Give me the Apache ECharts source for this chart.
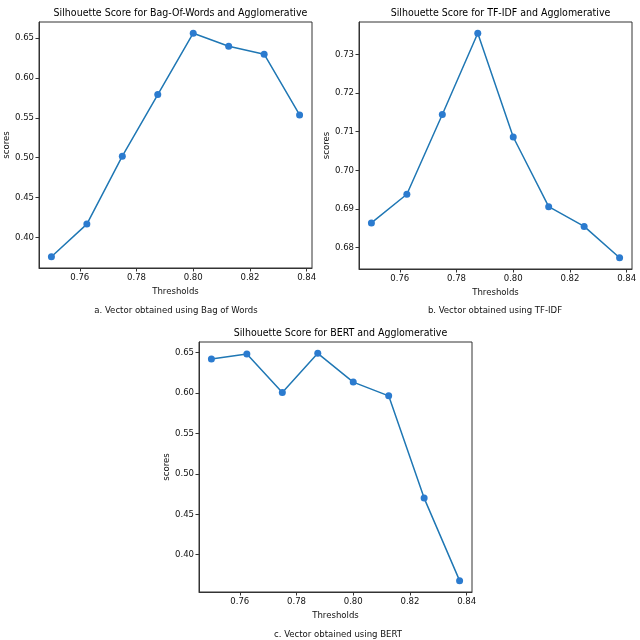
<!DOCTYPE html>
<html>
<head>
<meta charset="utf-8">
<script src="https://cdn.jsdelivr.net/npm/echarts@6/dist/echarts.min.js"></script>
<style>html,body{margin:0;padding:0;background:#fff}#c{width:640px;height:640px}</style>
</head>
<body>
<div id="c"></div>
<script>
var thresholds = [0.75, 0.7625, 0.775, 0.7875, 0.80, 0.8125, 0.825, 0.8375];
var bowScores = [0.3757, 0.4167, 0.5019, 0.5790, 0.6560, 0.6397, 0.6297, 0.5536];
var tfidfScores = [0.6864, 0.6938, 0.7144, 0.7354, 0.7086, 0.6906, 0.6855, 0.6774];
var bertScores = [0.6417, 0.6480, 0.6005, 0.6488, 0.6133, 0.5963, 0.4700, 0.3680];
var xTicks = [0.76, 0.78, 0.80, 0.82, 0.84];
var yTicksA = [0.40, 0.45, 0.50, 0.55, 0.60, 0.65];
var yTicksB = [0.68, 0.69, 0.70, 0.71, 0.72, 0.73];
var yTicksC = [0.40, 0.45, 0.50, 0.55, 0.60, 0.65];
var titles = ['Silhouette Score for Bag-Of-Words and Agglomerative',
              'Silhouette Score for TF-IDF and Agglomerative',
              'Silhouette Score for BERT and Agglomerative'];
var captions = ['a. Vector obtained using Bag of Words',
                'b. Vector obtained using TF-IDF',
                'c. Vector obtained using BERT'];

var FONT = "'DejaVu Sans Condensed', 'Liberation Sans Narrow', 'Liberation Sans', sans-serif";
var TXT = '#111';

function pairs(ys){ return thresholds.map(function(x,i){ return [x, ys[i]]; }); }
function margins(vals){
  var mn = Math.min.apply(null, vals), mx = Math.max.apply(null, vals), d = (mx - mn) * 0.05;
  return [mn - d, mx + d];
}
var xr = margins(thresholds);

var grids = [
  {left: 39, top: 22, width: 273, height: 246},
  {left: 359, top: 22, width: 273, height: 247},
  {left: 199, top: 342, width: 273, height: 250}
];
grids.forEach(function(g){ g.show = true; g.borderColor = '#333'; g.borderWidth = 1; g.backgroundColor = '#fff'; g.containLabel = false; });

function xAxis(i){
  return {
    type: 'value', gridIndex: i, min: xr[0], max: xr[1],
    name: 'Thresholds', nameLocation: 'middle', nameGap: 19,
    nameTextStyle: {fontFamily: FONT, fontSize: 9.5, color: TXT},
    axisLine: {show: true, lineStyle: {color: '#333', width: 1}},
    axisTick: {show: true, length: 3.5, customValues: xTicks, lineStyle: {color: '#333'}},
    axisLabel: {show: true, customValues: xTicks, margin: 5, fontFamily: FONT, fontSize: 9.5, color: TXT,
      formatter: function(v){ return v.toFixed(2); }},
    splitLine: {show: false}
  };
}
function yAxis(i, vals, ticks){
  var r = margins(vals);
  return {
    type: 'value', gridIndex: i, min: r[0], max: r[1],
    name: 'scores', nameLocation: 'middle', nameGap: 25, nameRotate: 90,
    nameTextStyle: {fontFamily: FONT, fontSize: 9.5, color: TXT},
    axisLine: {show: true, lineStyle: {color: '#333', width: 1}},
    axisTick: {show: true, length: 3.5, customValues: ticks, lineStyle: {color: '#333'}},
    axisLabel: {show: true, customValues: ticks, margin: 5, fontFamily: FONT, fontSize: 9.5, color: TXT,
      formatter: function(v){ return v.toFixed(2); }},
    splitLine: {show: false}
  };
}
function series(i, ys){
  return {
    type: 'line', xAxisIndex: i, yAxisIndex: i, data: pairs(ys),
    symbol: 'circle', symbolSize: 7, showSymbol: true,
    lineStyle: {color: '#1f77b4', width: 1.5},
    itemStyle: {color: '#2b7bcf'},
    animation: false
  };
}
var centers = [175.5, 495.5, 335.5];
var titleTops = [3, 3, 323];
var capCenters = [171, 490, 333];
var capTops = [301, 301, 625];
var titleArr = [];
for (var i = 0; i < 3; i++) {
  titleArr.push({text: titles[i], left: centers[i], top: titleTops[i], textAlign: 'center',
    textStyle: {fontFamily: FONT, fontSize: 10.5, fontWeight: 'normal', color: '#000'}});
  titleArr.push({text: captions[i], left: capCenters[i], top: capTops[i], textAlign: 'center',
    textStyle: {fontFamily: FONT, fontSize: 9.5, fontWeight: 'normal', color: '#111'}});
}

var chart = echarts.init(document.getElementById('c'), null, {renderer: 'canvas'});
chart.setOption({
  backgroundColor: '#fff',
  animation: false,
  title: titleArr,
  grid: grids,
  xAxis: [xAxis(0), xAxis(1), xAxis(2)],
  yAxis: [yAxis(0, bowScores, yTicksA), yAxis(1, tfidfScores, yTicksB), yAxis(2, bertScores, yTicksC)],
  series: [series(0, bowScores), series(1, tfidfScores), series(2, bertScores)]
});
</script>
</body>
</html>
